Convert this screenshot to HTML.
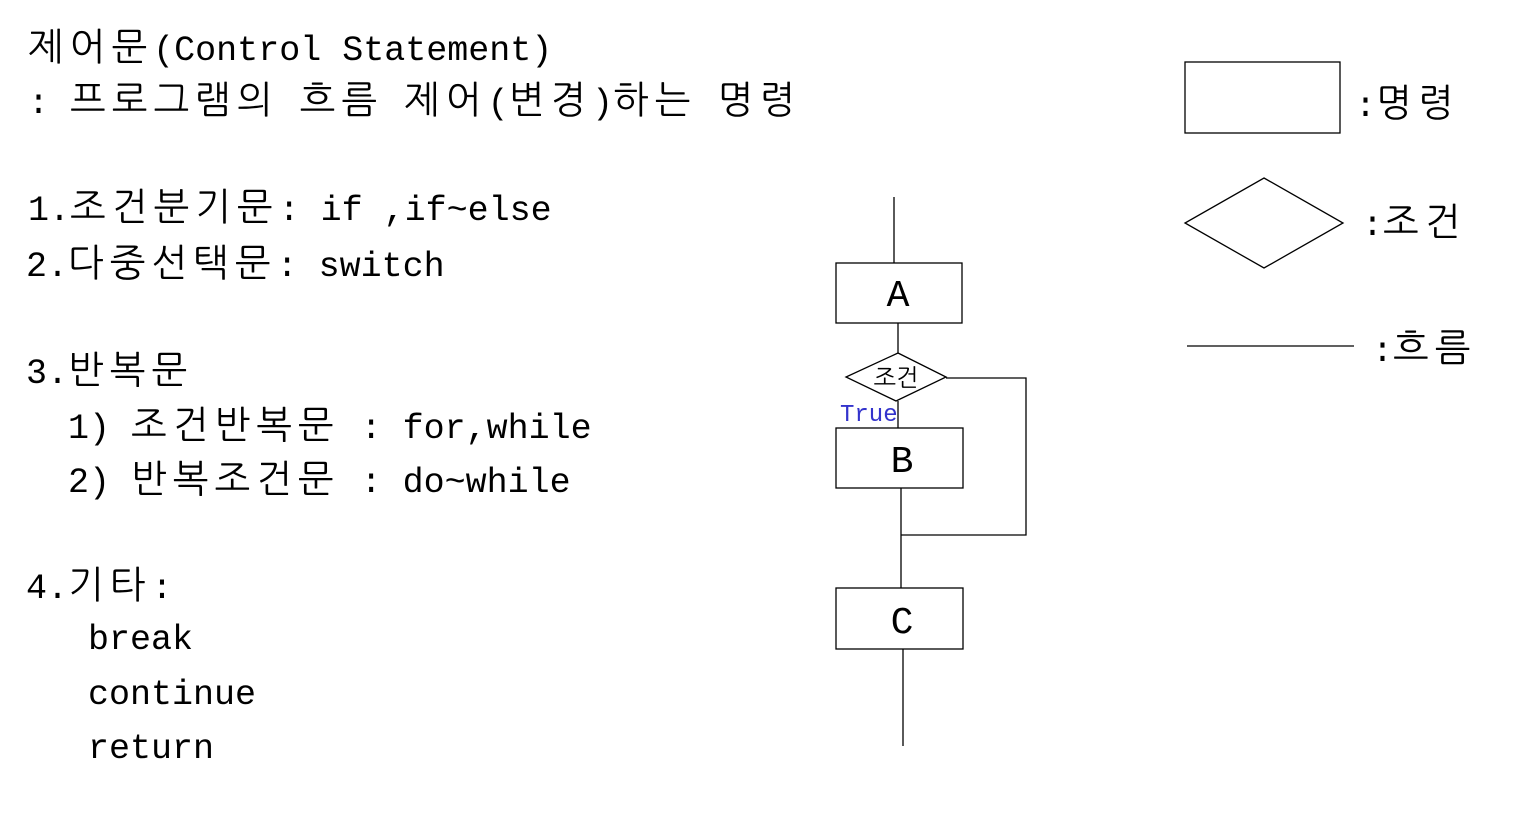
<!DOCTYPE html>
<html><head><meta charset="utf-8"><style>
html,body{margin:0;padding:0;background:#fff;}
body{width:1519px;height:824px;position:relative;overflow:hidden;}
.t{position:absolute;font-family:"Liberation Mono","NanumGothic",monospace;font-size:35px;line-height:40px;color:#000;white-space:pre;}
.k{font-family:"NanumGothic","Noto Sans CJK KR",sans-serif;font-size:38px;letter-spacing:6px;}
svg{position:absolute;left:0;top:0;}
</style></head><body>
<div class="t" style="left:28px;top:27px"><span class="k">제어문</span>(Control Statement)</div>
<div class="t" style="left:28px;top:80px">: <span class="k">프로그램의</span> <span class="k">흐름</span> <span class="k">제어</span>(<span class="k">변경</span>)<span class="k">하는</span> <span class="k">명령</span></div>
<div class="t" style="left:28px;top:187px">1.<span class="k">조건분기문</span>: if ,if~else</div>
<div class="t" style="left:26px;top:243px">2.<span class="k">다중선택문</span>: switch</div>
<div class="t" style="left:26px;top:350px">3.<span class="k">반복문</span></div>
<div class="t" style="left:26px;top:405px">  1) <span class="k">조건반복문</span> : for,while</div>
<div class="t" style="left:26px;top:459px">  2) <span class="k">반복조건문</span> : do~while</div>
<div class="t" style="left:26px;top:565px">4.<span class="k">기타</span>:</div>
<div class="t" style="left:88px;top:620px">break</div>
<div class="t" style="left:88px;top:675px">continue</div>
<div class="t" style="left:88px;top:729px">return</div>

<div class="t" style="left:1355px;top:83px">:<span class="k">명령</span></div>
<div class="t" style="left:1362px;top:202px">:<span class="k">조건</span></div>
<div class="t" style="left:1372px;top:328px">:<span class="k">흐름</span></div>

<svg width="1519" height="824" xmlns="http://www.w3.org/2000/svg">
<g stroke="#000" stroke-width="1.3" fill="none">
<line x1="894" y1="197" x2="894" y2="263"/>
<rect x="836" y="263" width="126" height="60"/>
<line x1="898" y1="323" x2="898" y2="353"/>
<polygon points="898,353 946,377 896,401 846,377"/>
<polyline points="946,378 1026,378 1026,535 901,535"/>
<line x1="898" y1="401" x2="898" y2="428"/>
<rect x="836" y="428" width="127" height="60"/>
<line x1="901" y1="488" x2="901" y2="588"/>
<rect x="836" y="588" width="127" height="61"/>
<line x1="903" y1="649" x2="903" y2="746"/>
<rect x="1185" y="62" width="155" height="71"/>
<polygon points="1264,178 1343,223 1264,268 1185,223"/>
<line x1="1187" y1="346" x2="1354" y2="346"/>
</g>
<text x="898" y="306" font-family="Liberation Mono, monospace" font-size="38" text-anchor="middle">A</text>
<text x="902" y="472" font-family="Liberation Mono, monospace" font-size="38" text-anchor="middle">B</text>
<text x="902" y="633" font-family="Liberation Mono, monospace" font-size="38" text-anchor="middle">C</text>
<text x="896" y="386" font-family="NanumGothic, Noto Sans CJK KR, sans-serif" font-size="24" text-anchor="middle">조건</text>
<text x="840" y="421" font-family="Liberation Mono, monospace" font-size="24" fill="#3333cc">True</text>
</svg>
</body></html>
